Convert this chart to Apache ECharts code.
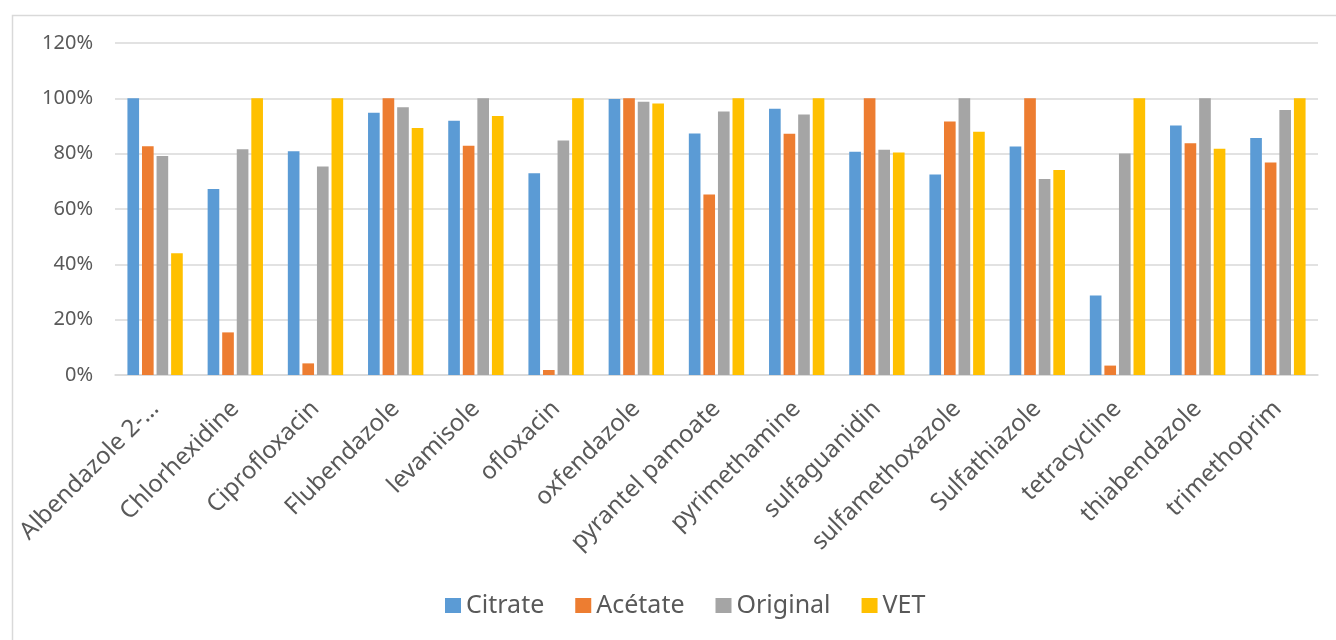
<!DOCTYPE html>
<html>
<head>
<meta charset="utf-8">
<script src="https://cdn.jsdelivr.net/npm/echarts@6/dist/echarts.min.js"></script>
<style>html,body{margin:0;padding:0;background:#fff;}#c{width:1336px;height:640px;}</style>
</head>
<body>
<div id="c"></div>
<script>
const categories = ['Albendazole 2-…', 'Chlorhexidine', 'Ciprofloxacin', 'Flubendazole', 'levamisole', 'ofloxacin', 'oxfendazole', 'pyrantel pamoate', 'pyrimethamine', 'sulfaguanidin', 'sulfamethoxazole', 'Sulfathiazole', 'tetracycline', 'thiabendazole', 'trimethoprim'];
const seriesNames = ['Citrate', 'Acétate', 'Original', 'VET'];
const citrate  = [100, 67.2, 80.9, 94.8, 91.9, 72.9, 99.8, 87.3, 96.2, 80.7, 72.5, 82.6, 28.7, 90.2, 85.7];
const acetate  = [82.7, 15.4, 4.2, 100, 82.9, 1.8, 100, 65.2, 87.2, 100, 91.6, 100, 3.4, 83.8, 76.8];
const original = [79.2, 81.6, 75.4, 96.8, 100, 84.8, 98.8, 95.2, 94.2, 81.4, 100, 70.8, 80.1, 100, 95.8];
const vet      = [44.0, 100, 100, 89.3, 93.6, 100, 98.1, 100, 100, 80.4, 87.9, 74.1, 100, 81.8, 100];
const yTicks = [0, 20, 40, 60, 80, 100, 120];
const colors = ['#5B9BD5', '#ED7D31', '#A5A5A5', '#FFC000'];

const dataSets = [citrate, acetate, original, vet];
const font = 'Noto Sans';
const chart = echarts.init(document.getElementById('c'), null, {renderer: 'canvas'});
chart.setOption({
  animation: false,
  backgroundColor: '#fff',
  color: colors,
  graphic: [{
    type: 'rect', left: 10, top: 13, silent: true,
    shape: {x: 0, y: 0, width: 1340, height: 640},
    style: {fill: 'none', stroke: '#d9d9d9', lineWidth: 1.5}
  }],
  grid: {left: 115, right: 18, top: 43, bottom: 265, containLabel: false},
  legend: {
    data: seriesNames, top: 588, left: 440,
    itemWidth: 16, itemHeight: 15, itemGap: 31,
    icon: 'rect',
    textStyle: {color: '#595959', fontSize: 25, fontFamily: font}
  },
  xAxis: {
    type: 'category', data: categories,
    axisLine: {show: true, lineStyle: {color: '#d9d9d9', width: 1.5}},
    axisTick: {show: false},
    axisLabel: {rotate: 45, interval: 0, margin: 30, color: '#595959', fontSize: 24, fontFamily: font}
  },
  yAxis: {
    type: 'value', min: yTicks[0], max: yTicks[yTicks.length - 1], interval: 20,
    axisLine: {show: false}, axisTick: {show: false},
    splitLine: {lineStyle: {color: '#d9d9d9', width: 1.5}},
    axisLabel: {margin: 22, color: '#595959', fontSize: 20, fontFamily: font, formatter: v => v + '%'}
  },
  series: seriesNames.map((n, i) => ({
    name: n, type: 'bar', data: dataSets[i],
    barCategoryGap: '31%', barGap: '25%',
    itemStyle: {color: colors[i]}
  }))
});
</script>
</body>
</html>
